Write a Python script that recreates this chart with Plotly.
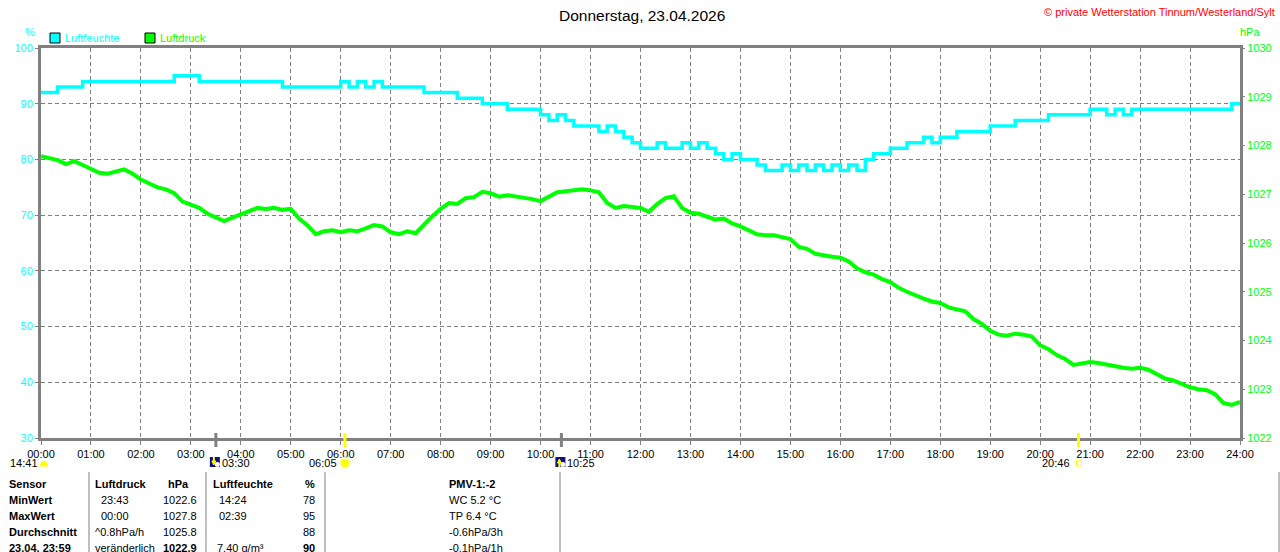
import plotly.graph_objects as go

# 10-minute samples, one row per hour (00:00 .. 23:50), last value = 24:00
humidity = [
    92, 92, 93, 93, 93, 94,
    94, 94, 94, 94, 94, 94,
    94, 94, 94, 94, 95, 95,
    95, 94, 94, 94, 94, 94,
    94, 94, 94, 94, 94, 93,
    93, 93, 93, 93, 93, 93,
    94, 93, 94, 93, 94, 93,
    93, 93, 93, 93, 92, 92,
    92, 92, 91, 91, 91, 90,
    90, 90, 89, 89, 89, 89,
    88, 87, 88, 87, 86, 86,
    86, 85, 86, 85, 84, 83,
    82, 82, 83, 82, 82, 83,
    82, 83, 82, 81, 80, 81,
    80, 80, 79, 78, 78, 79,
    78, 79, 78, 79, 78, 79,
    78, 79, 78, 80, 81, 81,
    82, 82, 83, 83, 84, 83,
    84, 84, 85, 85, 85, 85,
    86, 86, 86, 87, 87, 87,
    87, 88, 88, 88, 88, 88,
    89, 89, 88, 89, 88, 89,
    89, 89, 89, 89, 89, 89,
    89, 89, 89, 89, 89, 90,
    90,
]

pressure = [
    1027.78, 1027.74, 1027.70, 1027.62, 1027.68, 1027.60,
    1027.52, 1027.44, 1027.42, 1027.46, 1027.51, 1027.42,
    1027.30, 1027.22, 1027.14, 1027.10, 1027.02, 1026.85,
    1026.78, 1026.72, 1026.60, 1026.52, 1026.45, 1026.52,
    1026.58, 1026.65, 1026.72, 1026.70, 1026.72, 1026.68,
    1026.70, 1026.50, 1026.36, 1026.18, 1026.24, 1026.26,
    1026.22, 1026.26, 1026.24, 1026.30, 1026.37, 1026.34,
    1026.22, 1026.18, 1026.24, 1026.20, 1026.38, 1026.55,
    1026.70, 1026.82, 1026.80, 1026.92, 1026.94, 1027.05,
    1027.02, 1026.95, 1026.98, 1026.96, 1026.92, 1026.90,
    1026.86, 1026.95, 1027.04, 1027.06, 1027.08, 1027.10,
    1027.08, 1027.04, 1026.82, 1026.72, 1026.76, 1026.74,
    1026.72, 1026.64, 1026.80, 1026.92, 1026.96, 1026.72,
    1026.62, 1026.60, 1026.55, 1026.48, 1026.50, 1026.40,
    1026.34, 1026.26, 1026.18, 1026.16, 1026.16, 1026.12,
    1026.08, 1025.92, 1025.88, 1025.78, 1025.74, 1025.72,
    1025.70, 1025.62, 1025.48, 1025.40, 1025.35, 1025.26,
    1025.20, 1025.08, 1025.00, 1024.92, 1024.86, 1024.80,
    1024.77, 1024.68, 1024.63, 1024.60, 1024.44, 1024.34,
    1024.20, 1024.12, 1024.10, 1024.14, 1024.12, 1024.08,
    1023.90, 1023.82, 1023.70, 1023.62, 1023.50, 1023.52,
    1023.56, 1023.54, 1023.50, 1023.48, 1023.44, 1023.42,
    1023.44, 1023.40, 1023.30, 1023.22, 1023.18, 1023.10,
    1023.04, 1023.00, 1022.98, 1022.90, 1022.72, 1022.68,
    1022.74,
]
minutes = [i * 10 for i in range(len(pressure))]

hour_ticks = list(range(0, 1441, 60))
hour_labels = ['%02d:00' % (t // 60) for t in hour_ticks]

# sun / moon events below the time axis (minutes after midnight)
event_times = [210, 365, 625, 1246]
event_colors = ['#808080', '#FFFF00', '#808080', '#FFFF00']
event_labels = ['03:30', '06:05', '10:25', '20:46']
moon_phase_label = '14:41'

table_rows = ['Sensor', 'MinWert', 'MaxWert', 'Durchschnitt', '23.04. 23:59']
druck_left = ['Luftdruck', '23:43', '00:00', '^0.8hPa/h', 'veränderlich']
druck_right = ['hPa', '1022.6', '1027.8', '1025.8', '1022.9']
feuchte_left = ['Luftfeuchte', '14:24', '02:39', '', '7.40 g/m³']
feuchte_right = ['%', '78', '95', '88', '90']
pmv_col = ['PMV-1:-2', 'WC 5.2 °C', 'TP 6.4 °C', '-0.6hPa/3h', '-0.1hPa/1h']

CYAN = '#00FFFF'
GREEN = '#00FF00'
GRAY = '#808080'
FONT = 'Liberation Sans, Arial'
FS = 11

W, H = 1280, 552
L, R, T, B = 41, 40, 48, 114


def px(x):
    return (x - L) / (W - L - R)


def py(y):
    return (H - B - y) / (H - T - B)


fig = go.Figure()
fig.add_trace(go.Scatter(x=minutes, y=humidity, mode='lines', line_shape='hv',
                         line=dict(color=CYAN, width=3.5), name='Luftfeuchte',
                         hoverinfo='x+y'))
fig.add_trace(go.Scatter(x=minutes, y=pressure, mode='lines', yaxis='y2',
                         line=dict(color=GREEN, width=4), name='Luftdruck',
                         hoverinfo='x+y'))

ann = []
shapes = []


def text(x, y, s, color='black', size=FS, anchor='left', bold=False, family=FONT):
    if bold and s:
        s = '<b>' + s + '</b>'
    ann.append(dict(x=px(x), y=py(y), xref='paper', yref='paper', text=s,
                    showarrow=False, xanchor=anchor, yanchor='middle',
                    font=dict(color=color, size=size, family=family)))


# header texts
text(642, 15, 'Donnerstag, 23.04.2026', size=15.5, anchor='center')
text(1277, 12, '© private Wetterstation Tinnum/Westerland/Sylt', color='#FF0000',
     anchor='right')
text(30, 32, '%', color=CYAN, anchor='center')
text(1250, 32, 'hPa', color=GREEN, anchor='center')

# legend boxes
for x0, col, name in [(50, CYAN, 'Luftfeuchte'), (145, GREEN, 'Luftdruck')]:
    shapes.append(dict(type='rect', xref='paper', yref='paper', x0=px(x0), x1=px(x0 + 10),
                       y0=py(43), y1=py(33), fillcolor=col, line=dict(color='black', width=1)))
    text(x0 + 13, 38, name, color=col)

# sun / moon event marks on the time axis
for t, c, lab in zip(event_times, event_colors, event_labels):
    shapes.append(dict(type='line', xref='x', yref='paper', x0=t, x1=t,
                       y0=py(447), y1=py(433), line=dict(color=c, width=3)))

# moonrise / moonset icons
for t, up in [(event_times[0], False), (event_times[2], True)]:
    shapes.append(dict(type='rect', xref='x', xsizemode='pixel', xanchor=t, x0=-6, x1=4,
                       yref='paper', ysizemode='pixel', yanchor=py(462), y0=-5, y1=5,
                       fillcolor='#101080', line=dict(width=0)))
    shapes.append(dict(type='circle', xref='x', xsizemode='pixel', xanchor=t, x0=-1, x1=4,
                       yref='paper', ysizemode='pixel', yanchor=py(462), y0=-5, y1=0,
                       fillcolor='white', line=dict(width=0)))
    arrow = 'M -4 1 L 0 1 L -2 -3 Z' if not up else 'M -4 -1 L 0 -1 L -2 3 Z'
    shapes.append(dict(type='path', xref='x', xsizemode='pixel', xanchor=t, path=arrow,
                       yref='paper', ysizemode='pixel', yanchor=py(462),
                       fillcolor='#FFFF00', line=dict(color='#FFFF00', width=1)))
    shapes.append(dict(type='line', xref='x', xsizemode='pixel', xanchor=t,
                       x0=-2, x1=-2, y0=1 if not up else -1, y1=5 if not up else -5,
                       yref='paper', ysizemode='pixel', yanchor=py(462),
                       line=dict(color='#FFFF00', width=2)))
# sunrise
shapes.append(dict(type='circle', xref='x', xsizemode='pixel', xanchor=event_times[1],
                   x0=-6, x1=6, yref='paper', ysizemode='pixel', yanchor=py(463), y0=-6, y1=6,
                   fillcolor='#FFFFC0', line=dict(width=0)))
shapes.append(dict(type='circle', xref='x', xsizemode='pixel', xanchor=event_times[1],
                   x0=-4, x1=4, yref='paper', ysizemode='pixel', yanchor=py(463), y0=-4, y1=4,
                   fillcolor='#FFFF00', line=dict(width=0)))
# sunset
shapes.append(dict(type='rect', xref='x', xsizemode='pixel', xanchor=event_times[3],
                   x0=-2, x1=3, yref='paper', ysizemode='pixel', yanchor=py(463), y0=-3, y1=3,
                   fillcolor='white', line=dict(color='#FFFF00', width=1)))
# moon phase
shapes.append(dict(type='path', xref='paper', yref='paper',
                   path='M %f %f Q %f %f %f %f Z' % (px(40), py(466), px(44), py(456),
                                                      px(48), py(466)),
                   fillcolor='#FFFF00', line=dict(color='#FFFF00', width=1)))

for t, lab, side in zip(event_times, event_labels, ['r', 'l', 'r', 'l']):
    if side == 'r':
        ann.append(dict(x=t, xref='x', y=py(463), yref='paper', text=lab, showarrow=False,
                        xanchor='left', xshift=4, yanchor='middle',
                        font=dict(size=FS, family=FONT, color='black')))
    else:
        ann.append(dict(x=t, xref='x', y=py(463), yref='paper', text=lab, showarrow=False,
                        xanchor='right', xshift=-6, yanchor='middle',
                        font=dict(size=FS, family=FONT, color='black')))
text(8, 463, moon_phase_label)

# table
for x in [89, 206, 325, 560, 1279]:
    shapes.append(dict(type='line', xref='paper', yref='paper', x0=px(x), x1=px(x),
                       y0=py(472), y1=py(552), line=dict(color=GRAY, width=1)))

row_y = [484, 500, 516, 532, 548]
for i, y in enumerate(row_y):
    hdr = i == 0
    last = i == len(row_y) - 1
    text(7, y, table_rows[i], bold=True)
    text(93 if i in (0, 3, 4) else 99, y, druck_left[i], bold=hdr)
    text(191 if hdr else 199, y, druck_right[i], anchor='right', bold=hdr or last)
    text(211 if hdr else 217 if i < 3 else 215, y, feuchte_left[i], bold=hdr)
    text(317, y, feuchte_right[i], anchor='right', bold=hdr or last)
    text(447, y, pmv_col[i], bold=hdr)

fig.update_layout(
    width=W, height=H,
    margin=dict(l=L, r=R, t=T, b=B, pad=0),
    paper_bgcolor='white', plot_bgcolor='white',
    showlegend=False,
    font=dict(family=FONT, size=FS, color='black'),
    xaxis=dict(range=[0, 1440], tickvals=hour_ticks, ticktext=hour_labels,
               showgrid=True, gridcolor=GRAY, griddash='4px,3px', gridwidth=1,
               showline=True, linecolor=GRAY, linewidth=3, mirror=True,
               ticks='outside', ticklen=4, tickcolor=GRAY, automargin=False,
               tickfont=dict(size=FS, family=FONT, color='black'), zeroline=False),
    yaxis=dict(range=[30, 100], dtick=10, showgrid=True, gridcolor=GRAY,
               griddash='4px,3px', gridwidth=1, showline=True, linecolor=GRAY,
               linewidth=3, mirror=True, ticks='outside', ticklen=3, tickcolor=GRAY,
               automargin=False,
               tickfont=dict(size=FS, family=FONT, color=CYAN), zeroline=False),
    yaxis2=dict(range=[1022, 1030], dtick=1, overlaying='y', side='right',
                showgrid=False, showline=False, ticks='outside', ticklen=4,
                tickcolor=GRAY, automargin=False,
                tickfont=dict(size=FS, family=FONT, color=GREEN),
                zeroline=False),
    annotations=ann,
    shapes=shapes,
)

fig.write_html('out.html', config={'displayModeBar': False},
               post_script="document.body.style.margin='0';")
